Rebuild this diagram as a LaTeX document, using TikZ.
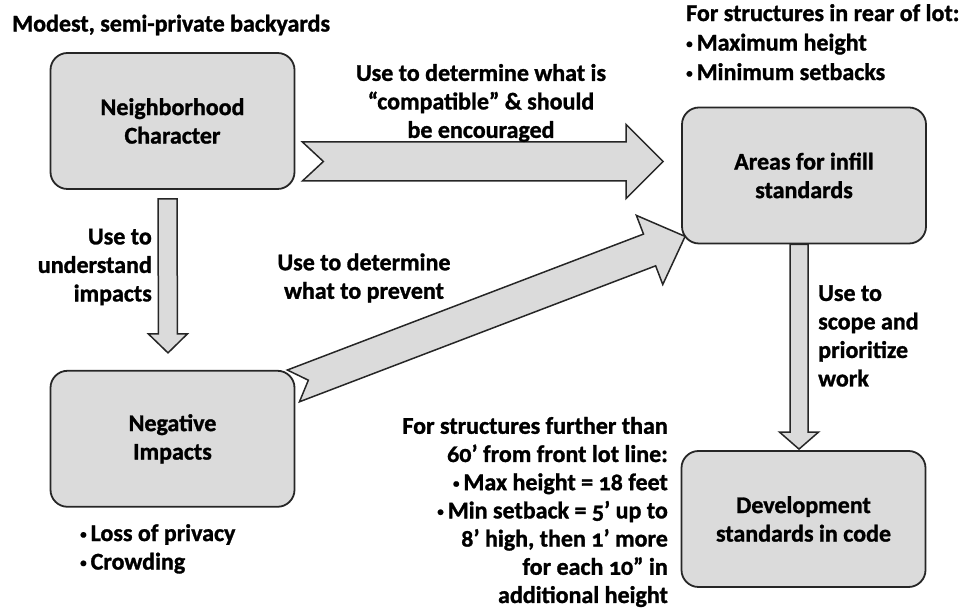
\documentclass[tikz,border=0pt]{standalone}
\usepackage{fontspec}
\setmainfont{Carlito}[Numbers=OldStyle,BoldFeatures={FakeBold=1.2}]
\usetikzlibrary{calc, positioning}
\definecolor{boxgray}{RGB}{219,219,219}

\newcommand\smbul{{\fontsize{13}{13}\selectfont\raisebox{2.5pt}{\textbullet}}\,}

% block arrow: from, to, shaft half width, head half width, head length, notch depth
\newcommand\fatarrow[6]{%
  \draw[fat arrow] let \p1=($(#2)-(#1)$), \n1={atan2(\y1,\x1)}, \n2={veclen(\x1,\y1)-#5} in
    ($(#1)+({\n1+90}:#3)$) -- ($(#1)+(\n1:\n2)+({\n1+90}:#3)$)
    -- ($(#1)+(\n1:\n2)+({\n1+90}:#4)$) -- (#2)
    -- ($(#1)+(\n1:\n2)+({\n1-90}:#4)$) -- ($(#1)+(\n1:\n2)+({\n1-90}:#3)$)
    -- ($(#1)+({\n1-90}:#3)$) -- ($(#1)+(\n1:#6)$) -- cycle;}

\begin{document}
\begin{tikzpicture}[x=1pt,y=1pt,
    main box/.style={draw=black!85,line width=1.8pt,fill=boxgray,rounded corners=17pt,
                     minimum width=244pt,minimum height=136pt,align=center,font=\bfseries\fontsize{24}{28.5}\selectfont},
    note/.style={font=\bfseries\fontsize{24}{28.5}\selectfont,inner sep=0pt},
    fat arrow/.style={draw=black!85,line width=1.5pt,fill=boxgray,line join=miter}]

    \useasboundingbox (0,0) rectangle (968,609);

    % boxes
    \node[main box] (nc) at (172.5,488) {Neighborhood\\Character};
    \node[main box] (ni) [below=180pt of nc] {Negative\\Impacts};
    \node[main box] (ar) at (804,433.5) {Areas for infill\\standards};
    \node[main box] (dv) at (803.5,90) {Development\\standards in code};

    % arrows
    \coordinate (h1) at ([xshift=7,yshift=-40.5]nc.east);
    \coordinate (h2) at ([xshift=-18,yshift=14]ar.west);
    \coordinate (v1) at ([xshift=-5,yshift=-9]nc.south);
    \coordinate (v2) at ([xshift=-4.5,yshift=17]ni.north);
    \coordinate (d1) at ([xshift=-2,yshift=-16]ni.north east);
    \coordinate (d2) at ([xshift=4,yshift=8]ar.south west);
    \coordinate (w1) at ([xshift=-5]ar.south);
    \coordinate (w2) at ([xshift=-4.5,yshift=1]dv.north);

    \fatarrow{h1}{h2}{19.5}{37}{37}{21}
    \fatarrow{v1}{v2}{9.5}{19.5}{19}{0}
    \fatarrow{d1}{d2}{17}{37}{38}{16}
    \fatarrow{w1}{w2}{9}{19.5}{17}{0}

    % texts
    \node[note,anchor=west] (title) at (12,584) {Modest, semi-private backyards};
    \node[note,anchor=north west,align=left,font=\bfseries\fontsize{24}{29.5}\selectfont] (rear) at (686,605)
        {For structures in rear of lot:\\\smbul Maximum height\\\smbul Minimum setbacks};
    \node[note,align=center] (compat) at (481,506) {Use to determine what is\\“compatible” \& should\\be encouraged};
    \node[note,align=right,anchor=east] (under) at (152,342) {Use to\\understand\\impacts};
    \node[note,align=center] (prev) at (364,331) {Use to determine\\what to prevent};
    \node[note,align=left,anchor=west] (scope) at (818,273) {Use to\\scope and\\prioritize\\work};
    \node[note,align=left,anchor=north west] (loss) at (80,85) {\smbul Loss of privacy\\\smbul Crowding};
    \node[note,align=right,anchor=east,font=\bfseries\fontsize{24}{28.2}\selectfont] (far) at (668,97)
        {For structures further than\\60’ from front lot line:\\\smbul Max height = 18 feet\\\smbul Min setback = 5’ up to\\8’ high, then 1’ more\\for each 10” in\\additional height};
\end{tikzpicture}
\end{document}
